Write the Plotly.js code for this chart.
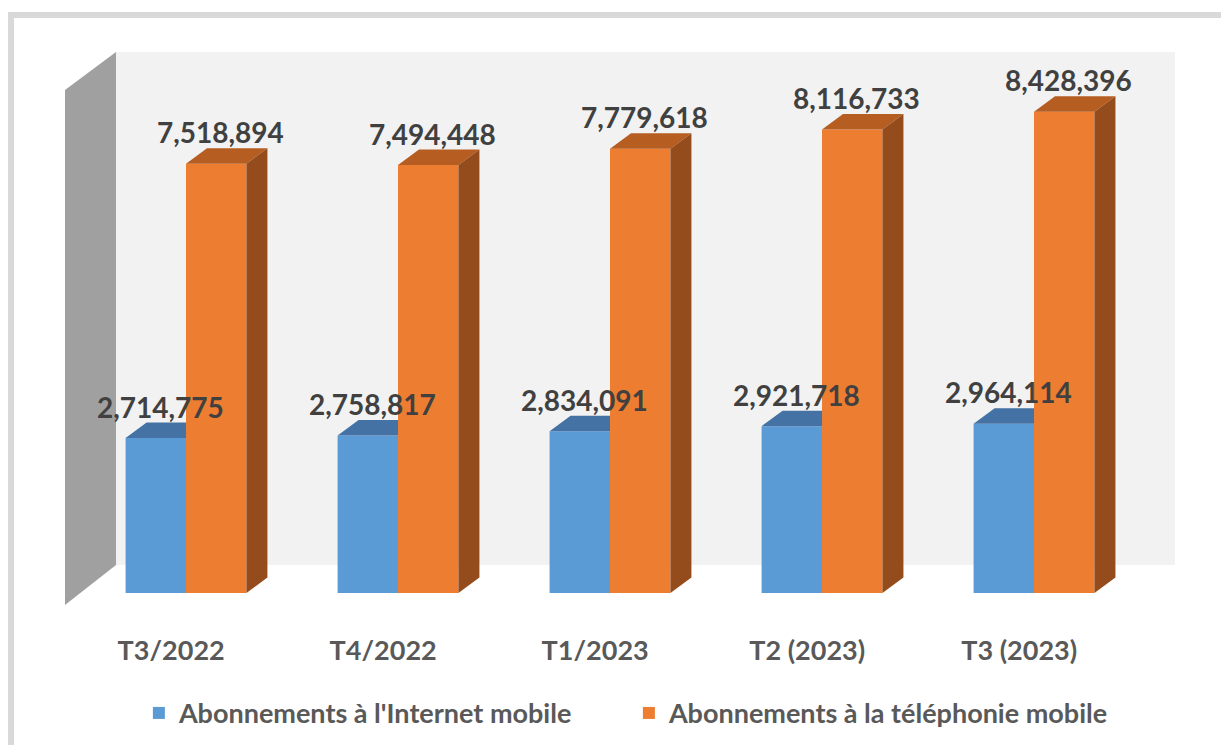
<!DOCTYPE html>
<html>
<head>
<meta charset="utf-8">
<script src="https://cdn.plot.ly/plotly-3.0.1.min.js"></script>
<style>html,body{margin:0;padding:0;background:#fff;}#chart{width:1221px;height:745px;}</style>
</head>
<body>
<div id="chart"></div>
<script>
// ---- data ----
const categories = ["T3/2022", "T4/2022", "T1/2023", "T2 (2023)", "T3 (2023)"];
const internetMobile = [2714775, 2758817, 2834091, 2921718, 2964114];
const telephonieMobile = [7518894, 7494448, 7779618, 8116733, 8428396];
const seriesNames = ["Abonnements à l'Internet mobile", "Abonnements à la téléphonie mobile"];

// ---- style / geometry ----
const FONT = "Lato, 'Open Sans', sans-serif";
const W = 0.285;       // bar width (category units)
const DX = 0.099;      // 3D depth in x (category units)
const DY = 271000;     // 3D depth in y (value units)
const blue = "#5b9bd5", blueTop = "#4472a4";
const orange = "#ed7d31", orangeTop = "#b65d22", orangeSide = "#954c1c";

const xIdx = categories.map((c, i) => i);
const fmt = v => v.toLocaleString("en-US");

// faces built from the data
function poly(list) {
  const xs = [], ys = [];
  list.forEach(p => { p.forEach(pt => { xs.push(pt[0]); ys.push(pt[1]); }); xs.push(null); ys.push(null); });
  return {xs, ys};
}
const blueTops = poly(internetMobile.map((v, i) => [[i - W, v], [i, v], [i, v + DY], [i - W + DX, v + DY]]));
const orangeTops = poly(telephonieMobile.map((v, i) => [[i, v], [i + W, v], [i + W + DX, v + DY], [i + DX, v + DY]]));
const orangeSides = poly(telephonieMobile.map((v, i) => [[i + W, 0], [i + W + DX, DY], [i + W + DX, v + DY], [i + W, v]]));

function face(f, color) {
  return {type: "scatter", mode: "none", x: f.xs, y: f.ys, fill: "toself", fillcolor: color,
          hoverinfo: "skip", showlegend: false, connectgaps: false};
}

const traces = [
  {type: "bar", name: seriesNames[0], x: xIdx, y: internetMobile, width: W, offset: -W,
   marker: {color: blue, line: {width: 0}}, hoverinfo: "skip"},
  {type: "bar", name: seriesNames[1], x: xIdx, y: telephonieMobile, width: W, offset: 0,
   marker: {color: orange, line: {width: 0}}, hoverinfo: "skip"},
  face(blueTops, blueTop),
  face(orangeTops, orangeTop),
  face(orangeSides, orangeSide)
];

const annotations = [];
internetMobile.forEach((v, i) => annotations.push({x: i - W / 2 + 0.02, y: v + DY, xref: "x", yref: "y",
  text: fmt(v), showarrow: false, yanchor: "bottom", yshift: -3,
  font: {family: FONT, size: 28, color: "#404040", weight: 700}}));
telephonieMobile.forEach((v, i) => annotations.push({x: i + W / 2 + 0.02, y: v + DY, xref: "x", yref: "y",
  text: fmt(v), showarrow: false, yanchor: "bottom", yshift: -3,
  font: {family: FONT, size: 28, color: "#404040", weight: 700}}));

const layout = {
  width: 1221, height: 745,
  margin: {l: 65, r: 46, t: 52, b: 140, pad: 0, autoexpand: false},
  paper_bgcolor: "#ffffff", plot_bgcolor: "rgba(0,0,0,0)",
  barmode: "overlay",
  showlegend: true,
  legend: {orientation: "h", x: 0.508, xanchor: "center", y: -0.196, yanchor: "middle",
           entrywidth: 445, entrywidthmode: "pixels", itemwidth: 30,
           font: {family: FONT, size: 27, color: "#595959", weight: 700}, traceorder: "normal"},
  xaxis: {range: [-0.5708, 4.665], showgrid: false, zeroline: false, showline: false,
          tickmode: "array", tickvals: xIdx.map(i => i - 0.07), ticktext: categories,
          ticks: "outside", ticklen: 22, tickcolor: "rgba(0,0,0,0)", automargin: false,
          tickfont: {family: FONT, size: 27, color: "#595959", weight: 700}, fixedrange: true},
  yaxis: {range: [-210000, 9474000], visible: false, fixedrange: true, automargin: false},
  annotations: annotations,
  shapes: [
    {type: "rect", xref: "paper", yref: "paper", x0: -0.04865, x1: 1.06, y0: -0.3, y1: 1.0669,
     line: {color: "#d9d9d9", width: 6}, fillcolor: "rgba(0,0,0,0)", layer: "below"},
    {type: "rect", xref: "paper", yref: "paper", x0: 0.04595, x1: 1, y0: 0.0723, y1: 1,
     line: {width: 0}, fillcolor: "#f2f2f2", layer: "below"},
    {type: "path", xref: "paper", yref: "paper", path: "M 0 0.9313 L 0.04595 1 L 0.04595 0.0723 L 0 0 Z",
     line: {width: 0}, fillcolor: "#a0a0a0", layer: "below"}
  ]
};

Plotly.newPlot("chart", traces, layout, {displayModeBar: false, staticPlot: true});
</script>
</body>
</html>
